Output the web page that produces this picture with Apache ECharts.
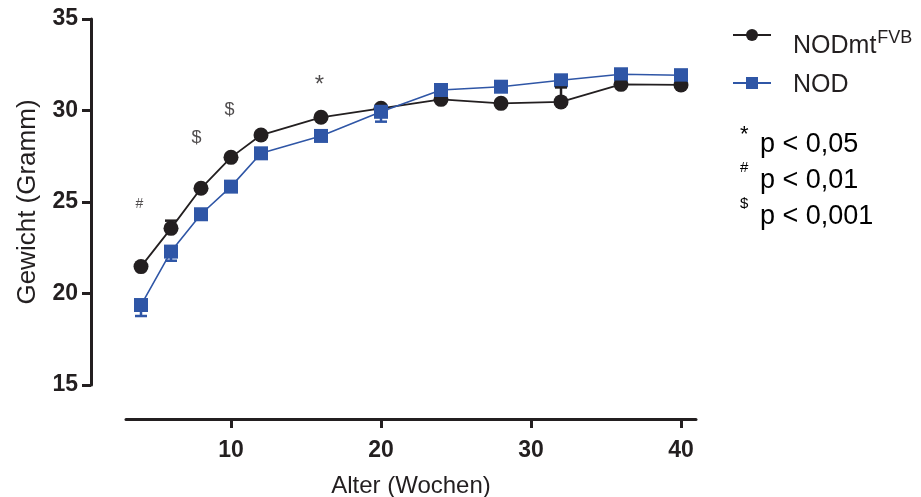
<!DOCTYPE html>
<html>
<head>
<meta charset="utf-8">
<script src="https://cdn.jsdelivr.net/npm/echarts@6/dist/echarts.min.js"></script>
<style>
  html, body { margin: 0; padding: 0; background: #ffffff; }
  #chart { width: 921px; height: 497px; }
</style>
</head>
<body>
<div id="chart"></div>
<script>
// weeks of age
const weeks = [4, 6, 8, 10, 12, 16, 20, 24, 28, 32, 36, 40]
// mean body weight (g)
const nodmtWeight = [21.47, 23.56, 25.75, 27.44, 28.66, 29.63, 30.12, 30.61, 30.39, 30.47, 31.43, 31.4]
const nodWeight = [19.37, 22.29, 24.33, 25.84, 27.66, 28.61, 29.93, 31.12, 31.3, 31.65, 31.98, 31.93]
// SEM, drawn one-sided (up for NODmt, down for NOD), 0 = hidden
const nodmtSem = [0, 0.42, 0, 0, 0, 0, 0, 0, 0, 0.79, 0.14, 0.11]
const nodSem = [0.6, 0.5, 0, 0, 0, 0, 0.54, 0, 0, 0, 0, 0]

const xTicks = [10, 20, 30, 40]

// significance marks above the curves
const sigX = [3.9, 7.7, 9.9, 15.9]
const sigY = [24.9, 28.5, 30.05, 31.4]
const sigLabels = ['#', '$', '$', '*']

const noteSymbols = ['*', '#', '$']
const noteTexts = ['p < 0,05', 'p < 0,01', 'p < 0,001']

const FONT = '"Liberation Sans", Arial, sans-serif'
const INK = '#231f20'
const BLUE = '#2f56a6'

const chart = echarts.init(document.getElementById('chart'))

function errorSeries(name, values, sem, dir, color, z) {
  return {
    name: name + '-err',
    type: 'custom',
    z: z,
    silent: true,
    data: weeks.map((w, i) => [w, values[i], sem[i]]),
    renderItem(params, api) {
      const x = api.value(0)
      const y = api.value(1)
      const e = api.value(2)
      if (!e) return null
      const p0 = api.coord([x, y])
      const p1 = api.coord([x, y + dir * e])
      const style = { stroke: color, lineWidth: 2.5 }
      return {
        type: 'group',
        children: [
          { type: 'line', shape: { x1: p0[0], y1: p0[1], x2: p1[0], y2: p1[1] }, style },
          { type: 'line', shape: { x1: p1[0] - 6, y1: p1[1], x2: p1[0] + 6, y2: p1[1] }, style },
        ],
      }
    },
  }
}

const option = {
  backgroundColor: '#ffffff',
  animation: false,
  textStyle: { fontFamily: FONT, color: INK },
  grid: { left: 126, right: 225, top: 19, bottom: 112, outerBoundsMode: 'none', containLabel: false },
  legend: {
    orient: 'vertical',
    left: 727,
    top: 24,
    itemWidth: 38,
    itemHeight: 15,
    itemGap: 14,
    data: [
      { name: 'NODmt', textStyle: { padding: [18, 0, 0, 17] } },
      { name: 'NOD', textStyle: { padding: [0, 0, 0, 17] } },
    ],
    formatter: (name) => (name === 'NODmt' ? '{a|NODmt}{b|FVB}' : '{a|' + name + '}'),
    textStyle: {
      padding: [0, 0, 0, 17],
      rich: {
        a: { fontFamily: FONT, fontSize: 25, color: INK, lineHeight: 30, verticalAlign: 'bottom' },
        b: { fontFamily: FONT, fontSize: 18, color: INK, lineHeight: 30, verticalAlign: 'top', padding: [0, 0, 0, 1] },
      },
    },
  },
  xAxis: {
    type: 'value',
    min: 3,
    max: 41,
    offset: 34,
    splitLine: { show: false },
    axisLine: { show: true, lineStyle: { color: INK, width: 3 } },
    axisTick: { show: true, length: 9, lineStyle: { color: INK, width: 3 }, customValues: xTicks },
    axisLabel: {
      customValues: xTicks,
      margin: 20,
      fontFamily: FONT,
      fontSize: 23,
      fontWeight: 'bold',
      color: INK,
    },
    name: 'Alter (Wochen)',
    nameLocation: 'middle',
    nameGap: 55,
    nameTextStyle: { fontFamily: FONT, fontSize: 24, color: INK },
  },
  yAxis: {
    type: 'value',
    min: 15,
    max: 35,
    interval: 5,
    offset: 35,
    splitLine: { show: false },
    axisLine: { show: true, lineStyle: { color: INK, width: 3 } },
    axisTick: { show: true, length: 9, lineStyle: { color: INK, width: 3 } },
    axisLabel: {
      margin: 13,
      fontFamily: FONT,
      fontSize: 23,
      fontWeight: 'bold',
      color: INK,
    },
    name: 'Gewicht (Gramm)',
    nameLocation: 'middle',
    nameGap: 50,
    nameTextStyle: { fontFamily: FONT, fontSize: 26, color: INK },
  },
  graphic: noteSymbols.map((s, i) => ({
    type: 'text',
    left: 740,
    top: 124 + i * 36,
    style: {
      text: '{s|' + s + '}{t|' + noteTexts[i] + '}',
      rich: {
        s: { fontFamily: FONT, fontSize: s === '*' ? 22 : 15, color: INK, lineHeight: 34, verticalAlign: 'top', width: 20 },
        t: { fontFamily: FONT, fontSize: 27, color: INK, lineHeight: 34, verticalAlign: 'bottom' },
      },
    },
  })),
  series: [
    {
      name: 'NODmt',
      type: 'line',
      z: 2,
      data: weeks.map((w, i) => [w, nodmtWeight[i]]),
      symbol: 'circle',
      symbolSize: 15,
      itemStyle: { color: INK },
      lineStyle: { color: INK, width: 1.8 },
    },
    {
      name: 'NOD',
      type: 'line',
      z: 3,
      data: weeks.map((w, i) => [w, nodWeight[i]]),
      symbol: 'rect',
      symbolSize: 14,
      itemStyle: { color: BLUE },
      lineStyle: { color: BLUE, width: 1.6 },
    },
    errorSeries('NODmt', nodmtWeight, nodmtSem, 1, INK, 4),
    errorSeries('NOD', nodWeight, nodSem, -1, BLUE, 4),
    {
      name: 'sig',
      type: 'scatter',
      symbolSize: 0,
      silent: true,
      data: sigX.map((x, i) => [x, sigY[i]]),
      label: {
        show: true,
        position: 'inside',
        formatter: (p) => sigLabels[p.dataIndex],
        fontFamily: FONT,
        color: INK,
        fontSize: 17,
      },
      labelLayout: (p) => {
        const ch = sigLabels[p.dataIndex]
        return { fontSize: ch === '#' ? 14 : ch === '*' ? 24 : 18 }
      },
    },
  ],
}

chart.setOption(option)
</script>
</body>
</html>
